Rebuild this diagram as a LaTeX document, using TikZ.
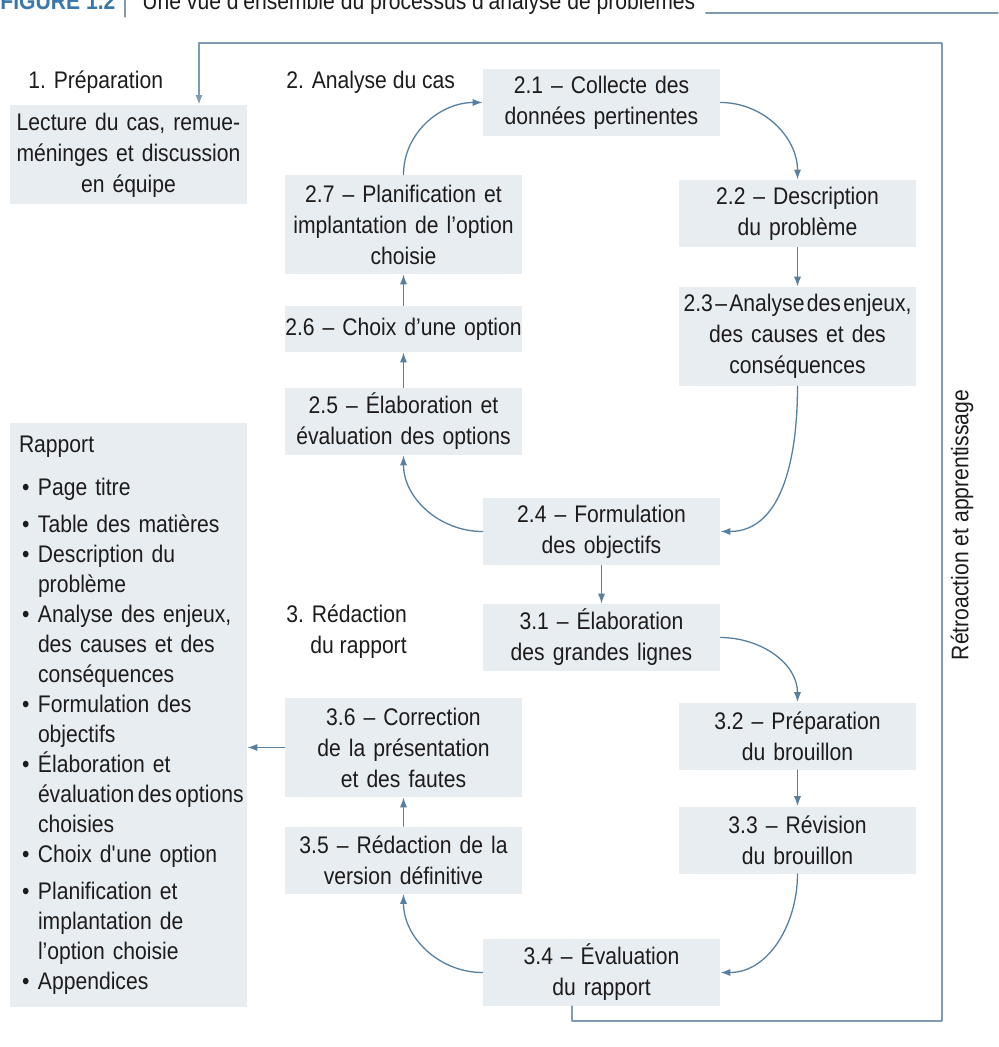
\documentclass[tikz,border=0pt]{standalone}
\usepackage{fontspec}
\setmainfont{Liberation Sans}[FakeStretch=0.88]
\usepackage{xcolor}
\usetikzlibrary{arrows.meta}
\definecolor{boxfill}{RGB}{231,237,241}
\definecolor{linkcol}{RGB}{88,128,158}
\definecolor{loopcol}{RGB}{128,156,180}
\definecolor{inkcol}{RGB}{30,27,28}
\definecolor{figblue}{RGB}{58,120,170}
\newcommand{\LinkColor}{linkcol}
\newcommand{\itm}{\makebox[9.5pt][l]{\hspace{1.5pt}\textbullet}}

\begin{document}
\begin{tikzpicture}[line cap=round,line join=round,>={Latex[length=5pt,width=3.6pt]},x=0.5pt,y=-0.5pt,
  every node/.style={font=\fontsize{12}{15.5}\selectfont,text=inkcol},
  stepbox/.style={fill=boxfill,inner sep=0pt,text width=118.5pt,align=center},
  one/.style={stepbox,minimum height=23pt},
  two/.style={stepbox,minimum height=33.5pt},
  three/.style={stepbox,minimum height=49.5pt},
  link/.style={->,draw=\LinkColor,line width=0.65pt},
  phase/.style={anchor=west,inner sep=0pt,align=left}]
  \useasboundingbox (0,0) rectangle (998,1047);
  % title (cut at the top)
  \node[anchor=base west,inner sep=0pt,text=figblue,font=\bfseries\fontsize{12}{14}\selectfont] (fig) at (0,10) {FIGURE 1.2};
  \draw[loopcol,line width=0.6pt] (125,-10) -- (125,17);
  \node[anchor=base west,inner sep=0pt] (title) at (142,10) {Une vue d’ensemble du processus d’analyse de problèmes};
  \coordinate (tend) at (998,13);
  \draw[loopcol,line width=0.6pt] ([xshift=5pt]title.east |- tend) -- (tend);
  % phases
  \node[phase] (p1) at (28,82) {1. Préparation};
  \node[phase] (p2) at (286,82) {2. Analyse du cas};
  \node[phase] (p3) at (286,632) {3. Rédaction\\\hspace*{12pt}du rapport};
  \node[three] (prep) at (128.5,155) {Lecture du cas, remue-\\méninges et discussion\\en équipe};
  % 2. analyse
  \node[two] (b21) at (601.5,102.5) {2.1 – Collecte des\\données pertinentes};
  \node[two] (b22) at (797.5,213.5) {2.2 – Description\\du problème};
  \node[three] (b23) at (797.5,336.5) {{\spaceskip=0.1em\relax 2.3 – Analyse des enjeux,}\\des causes et des\\conséquences};
  \node[two] (b24) at (601.5,531.5) {2.4 – Formulation\\des objectifs};
  \node[two] (b25) at (403.5,421.5) {2.5 – Élaboration et\\évaluation des options};
  \node[one] (b26) at (403.5,329) {2.6 – Choix d’une option};
  \node[three] (b27) at (403.5,224.5) {2.7 – Planification et\\implantation de l’option\\choisie};
  % 3. redaction
  \node[two] (b31) at (601.5,637.5) {3.1 – Élaboration\\des grandes lignes};
  \node[two] (b32) at (797.5,736) {3.2 – Préparation\\du brouillon};
  \node[two] (b33) at (797.5,840) {3.3 – Révision\\du brouillon};
  \node[two] (b34) at (601.5,972.5) {3.4 – Évaluation\\du rapport};
  \node[two] (b35) at (403.5,860) {3.5 – Rédaction de la\\version définitive};
  \node[three] (b36) at (403.5,747.5) {3.6 – Correction\\de la présentation\\et des fautes};
  % rapport
  \node[fill=boxfill,inner xsep=4.5pt,inner ysep=0pt,text width=109.5pt,minimum height=292pt,align=left,
    font=\fontsize{12}{15}\selectfont] (rapport) at (128.5,715) {Rapport\\[6.5pt]
    \itm Page titre\\[3.5pt]
    \itm Table des matières\\
    \itm Description du\\
    \hspace*{9.5pt}problème\\
    \itm Analyse des enjeux,\\
    \hspace*{9.5pt}des causes et des\\
    \hspace*{9.5pt}conséquences\\
    \itm Formulation des\\
    \hspace*{9.5pt}objectifs\\
    \itm Élaboration et\\
    \hspace*{9.5pt}\mbox{\spaceskip=0.15em\relax évaluation des options}\\
    \hspace*{9.5pt}choisies\\
    \itm Choix d\textquotesingle une option\\[3.5pt]
    \itm Planification et\\
    \hspace*{9.5pt}implantation de\\
    \hspace*{9.5pt}l’option choisie\\
    \itm Appendices};
  \node[rotate=90] (retro) at (962,525) {Rétroaction et apprentissage};
  % connectors
  \draw[link] (b27.north) to[out=90,in=180] (b21.west);
  \draw[link] (b21.east) to[out=0,in=90] (b22.north);
  \draw[link] (b22) -- (b23);
  \draw[link] (b23.south) to[out=-90,in=0] (b24.east);
  \draw[link] (b24.west) to[out=180,in=-90] (b25.south);
  \draw[link] (b25) -- (b26);
  \draw[link] (b26) -- (b27);
  \draw[link] (b24) -- (b31);
  \draw[link] (b31.east) to[out=0,in=90] (b32.north);
  \draw[link] (b32) -- (b33);
  \draw[link] (b33.south) to[out=-90,in=0] (b34.east);
  \draw[link] (b34.west) to[out=180,in=-90] (b35.south);
  \draw[link] (b35) -- (b36);
  \draw[link] (b36.west) -- (b36.west -| rapport.east);
  % feedback loop
  \coordinate (fbbot) at (942,1021);
  \coordinate (fbtop) at (942,43);
  \draw[loopcol,line width=1pt,->] ([xshift=-14.75pt]b34.south) |- (fbbot) -- (fbtop) -| ([xshift=35.25pt]prep.north);
\end{tikzpicture}
\end{document}
